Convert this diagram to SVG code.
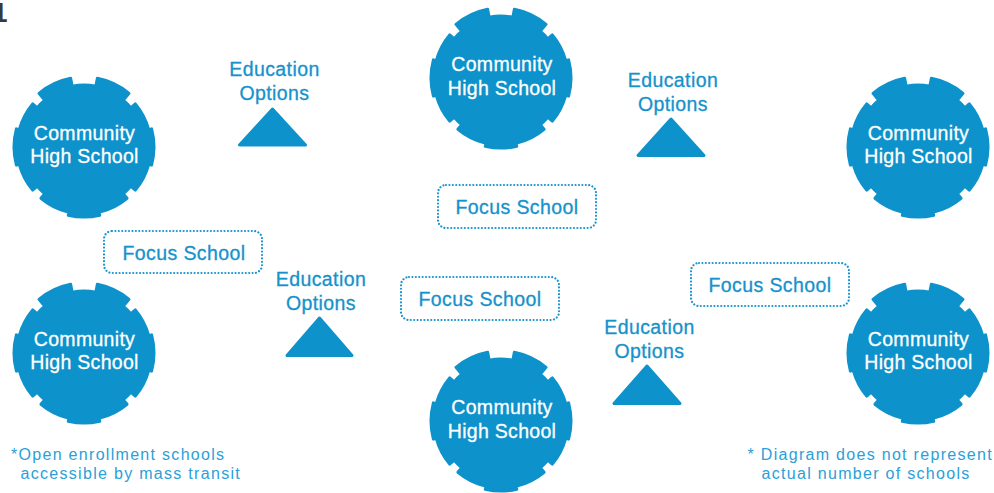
<svg xmlns="http://www.w3.org/2000/svg" xmlns:xlink="http://www.w3.org/1999/xlink" width="994" height="493" viewBox="0 0 994 493">
<style>
.gear{fill:#0d92cb;stroke:#0d92cb;stroke-width:3;stroke-linejoin:round}
.gt{font-family:"Liberation Sans",Arial,sans-serif;font-size:19.5px;fill:#ffffff;stroke:#ffffff;stroke-width:0.3;text-anchor:middle;letter-spacing:0.3px}
.lbl{font-family:"Liberation Sans",Arial,sans-serif;font-size:19.5px;fill:#1592cc;stroke:#1592cc;stroke-width:0.3;text-anchor:middle;letter-spacing:0.4px}
.tri{fill:#0d92cb;stroke:#0d92cb;stroke-width:3;stroke-linejoin:round}
.box{fill:none;stroke:#1a95cf;stroke-width:2.2;stroke-dasharray:0.01 3.4;stroke-linecap:round}
.note{font-family:"Liberation Sans",Arial,sans-serif;font-size:16px;fill:#2aa0d8;letter-spacing:1.3px}
</style>
<defs>
<path id="cog" d="M67.61,-18.12 A70 70 0 0 1 67.61,18.12 L64.72,17.34 A67 67 0 0 1 51.32,43.07 L46.73,39.21 A61 61 0 0 1 39.21,46.73 L43.07,51.32 A67 67 0 0 1 15.08,65.28 L15.75,68.21 A70 70 0 0 1 -15.75,68.21 L-15.08,65.28 A67 67 0 0 1 -43.07,51.32 L-39.21,46.73 A61 61 0 0 1 -46.73,39.21 L-51.32,43.07 A67 67 0 0 1 -64.72,17.34 L-67.61,18.12 A70 70 0 0 1 -67.61,-18.12 L-64.72,-17.34 A67 67 0 0 1 -51.32,-43.07 L-46.73,-39.21 A61 61 0 0 1 -39.21,-46.73 L-45,-53.62 A70 70 0 0 1 -13.36,-68.71 L-11.83,-60.86 A62 62 0 0 1 11.83,-60.86 L13.36,-68.71 A70 70 0 0 1 45,-53.62 L39.21,-46.73 A61 61 0 0 1 46.73,-39.21 L51.32,-43.07 A67 67 0 0 1 64.72,-17.34 Z"/>
</defs>
<rect width="994" height="493" fill="#ffffff"/>
<text x="-7.5" y="22" font-family="Liberation Sans,sans-serif" font-weight="bold" font-size="27" fill="#3a3a3a">1</text>

<g id="school-left-top">
<use xlink:href="#cog" class="gear" transform="translate(84,147)"/>
<text class="gt" x="84.5" y="139.5">Community</text>
<text class="gt" x="84.5" y="163">High School</text>
</g>
<g id="school-left-bottom">
<use xlink:href="#cog" class="gear" transform="translate(84,353)"/>
<text class="gt" x="84.5" y="345.5">Community</text>
<text class="gt" x="84.5" y="369">High School</text>
</g>
<g id="school-center-top">
<use xlink:href="#cog" class="gear" transform="translate(501,78)"/>
<text class="gt" x="502" y="70.5">Community</text>
<text class="gt" x="502" y="95">High School</text>
</g>
<g id="school-center-bottom">
<use xlink:href="#cog" class="gear" transform="translate(501,421)"/>
<text class="gt" x="502" y="413.5">Community</text>
<text class="gt" x="502" y="437.5">High School</text>
</g>
<g id="school-right-top">
<use xlink:href="#cog" class="gear" transform="translate(918,147)"/>
<text class="gt" x="918.5" y="139.5">Community</text>
<text class="gt" x="918.5" y="163">High School</text>
</g>
<g id="school-right-bottom">
<use xlink:href="#cog" class="gear" transform="translate(918,353)"/>
<text class="gt" x="918.5" y="345.5">Community</text>
<text class="gt" x="918.5" y="369">High School</text>
</g>

<g id="options-left">
<text class="lbl" x="274.5" y="76">Education</text>
<text class="lbl" x="274.5" y="100">Options</text>
<polygon class="tri" points="272.5,109 239.5,145 305.5,145"/>
</g>
<g id="options-right-top">
<text class="lbl" x="673" y="87">Education</text>
<text class="lbl" x="673" y="111">Options</text>
<polygon class="tri" points="671,119 638,155.5 704,155.5"/>
</g>
<g id="options-center-left">
<text class="lbl" x="321" y="286">Education</text>
<text class="lbl" x="321" y="310">Options</text>
<polygon class="tri" points="319.5,318 287,355.5 352,355.5"/>
</g>
<g id="options-right-mid">
<text class="lbl" x="649.5" y="334">Education</text>
<text class="lbl" x="649.5" y="358">Options</text>
<polygon class="tri" points="647,366 614,403.5 680,403.5"/>
</g>

<g id="focus-left">
<rect class="box" x="104" y="231" width="158" height="42" rx="8"/>
<text class="lbl" x="184" y="260">Focus School</text>
</g>
<g id="focus-center-top">
<rect class="box" x="438" y="185" width="158" height="43" rx="8"/>
<text class="lbl" x="517" y="214">Focus School</text>
</g>
<g id="focus-center">
<rect class="box" x="401" y="277" width="158" height="43" rx="8"/>
<text class="lbl" x="480" y="306">Focus School</text>
</g>
<g id="focus-right">
<rect class="box" x="691" y="263" width="158" height="43" rx="8"/>
<text class="lbl" x="770" y="292">Focus School</text>
</g>

<g id="notes">
<text class="note" x="11" y="460">*Open enrollment schools</text>
<text class="note" x="20.5" y="479">accessible by mass transit</text>
<text class="note" x="747.5" y="460">* Diagram does not represent</text>
<text class="note" x="761.5" y="479">actual number of schools</text>
</g>
</svg>
